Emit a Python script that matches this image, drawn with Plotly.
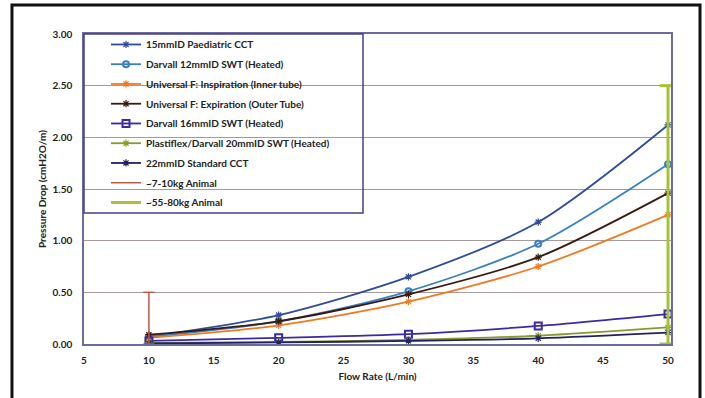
import plotly.graph_objects as go

flow = [10, 20, 30, 40, 50]

paed15 = [0.07, 0.28, 0.65, 1.18, 2.12]
darvall12 = [0.07, 0.22, 0.51, 0.97, 1.74]
uni_insp = [0.06, 0.18, 0.41, 0.75, 1.25]
uni_exp = [0.09, 0.22, 0.48, 0.84, 1.46]
darvall16 = [0.03, 0.06, 0.095, 0.175, 0.29]
plastiflex20 = [0.01, 0.02, 0.04, 0.08, 0.16]
std22 = [0.005, 0.015, 0.03, 0.055, 0.11]

animal_small_x = [10, 10]
animal_small_y = [0, 0.5]
animal_large_x = [50, 50]
animal_large_y = [0, 2.5]

names = [
    "15mmID Paediatric CCT",
    "Darvall 12mmID SWT (Heated)",
    "Universal F: Inspiration (Inner tube)",
    "Universal F: Expiration (Outer Tube)",
    "Darvall 16mmID SWT (Heated)",
    "Plastiflex/Darvall 20mmID SWT (Heated)",
    "22mmID Standard CCT",
    "~7-10kg Animal",
    "~55-80kg Animal",
]

x_ticks = [5, 10, 15, 20, 25, 30, 35, 40, 45, 50]
y_ticks = [0, 0.5, 1.0, 1.5, 2.0, 2.5, 3.0]

series = [
    (paed15, "#2f4b9c", "asterisk-open", 6, 1.2),
    (darvall12, "#3a7fc4", "circle-open", 6, 2),
    (uni_insp, "#f07a22", "asterisk-open", 6, 1.2),
    (uni_exp, "#3a1a10", "asterisk-open", 6, 1.2),
    (darvall16, "#3a2ca0", "square-open", 7, 2),
    (plastiflex20, "#8a9a2a", "asterisk-open", 6, 1.2),
    (std22, "#232060", "asterisk-open", 6, 1.2),
]

fig = go.Figure()

for i, (vals, col, sym, size, mlw) in enumerate(series):
    fig.add_trace(go.Scatter(
        x=flow, y=vals, name=names[i], legendgroup=str(i),
        mode="lines+markers",
        line=dict(color=col, width=1.8, shape="spline", smoothing=0.8),
        marker=dict(symbol=sym, size=size, color=col, line=dict(color=col, width=mlw)),
    ))

# animal ranges
fig.add_trace(go.Scatter(
    x=animal_small_x, y=animal_small_y, name=names[7], legendgroup="7",
    mode="lines", line=dict(color="#b85a48", width=1.5),
))
fig.add_trace(go.Scatter(
    x=animal_small_x, y=animal_small_y, showlegend=False, legendgroup="7",
    mode="markers", marker=dict(symbol="line-ew-open", size=8, color="#b85a48", line=dict(color="#b85a48", width=1.5)),
    hoverinfo="skip",
))
fig.add_trace(go.Scatter(
    x=animal_large_x, y=animal_large_y, name=names[8], legendgroup="8",
    mode="lines", line=dict(color="#a6c236", width=3),
))
fig.add_trace(go.Scatter(
    x=animal_large_x, y=animal_large_y, showlegend=False, legendgroup="8",
    mode="markers", marker=dict(symbol="line-ew-open", size=12, color="#a6c236", line=dict(color="#a6c236", width=3)),
    hoverinfo="skip",
))

font_family = "Lato, 'Open Sans', sans-serif"

fig.update_layout(
    width=705, height=398,
    margin=dict(l=84, r=34, t=34, b=54, autoexpand=False),
    paper_bgcolor="white", plot_bgcolor="white",
    font=dict(family=font_family, size=10, color="#222222", weight="bold"),
    showlegend=True,
    legend=dict(
        x=0.0375, y=1.013, xanchor="left", yanchor="top",
        bgcolor="rgba(255,255,255,0)", borderwidth=0,
        font=dict(family=font_family, size=10, color="#222222", weight="bold"),
        tracegroupgap=0.75, itemwidth=30,
    ),
    xaxis=dict(
        range=[5, 50.23], tickvals=x_ticks, ticktext=[str(v) for v in x_ticks],
        showgrid=False, zeroline=False, automargin=False,
        showline=True, linecolor="#6c6c9c", linewidth=1.5, mirror=True,
        ticks="", ticklabelstandoff=6,
        title=dict(text="Flow Rate (L/min)", font=dict(size=10, weight="bold"), standoff=8),
    ),
    yaxis=dict(
        range=[0, 3], tickvals=y_ticks, ticktext=["%.2f" % v for v in y_ticks],
        showgrid=True, gridcolor="#a89a9a", gridwidth=1.2, zeroline=False, automargin=False,
        showline=True, linecolor="#6c6c9c", linewidth=1.5, mirror=True,
        ticks="", ticklabelstandoff=8,
        title=dict(text="Pressure Drop (cmH2O/m)", font=dict(size=10, weight="bold"), standoff=4),
    ),
    shapes=[
        # legend box
        dict(type="rect", xref="paper", yref="paper", x0=0, x1=0.4753, y0=0.4226, y1=1,
             line=dict(color="#4a3c8c", width=1.5), fillcolor="rgba(0,0,0,0)", layer="above"),
        # outer frame
        dict(type="rect", xref="paper", yref="paper", x0=-0.1227, x1=1.0494, y0=-0.2, y1=1.0935,
             line=dict(color="#111111", width=3), fillcolor="rgba(0,0,0,0)"),
    ],
)

fig.write_html(
    "out.html",
    config={"displayModeBar": False},
    post_script="document.body.style.margin='0';document.body.style.overflow='hidden';",
)
